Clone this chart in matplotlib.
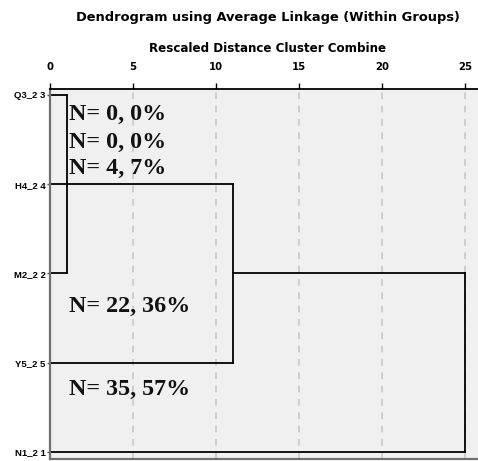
import matplotlib
matplotlib.use("Agg")
import matplotlib.pyplot as plt

# cases, top to bottom
case_labels = ["Q3_2 3", "H4_2 4", "M2_2 2", "Y5_2 5", "N1_2 1"]

# links: (row of first member, where its line starts, row of second member, where it starts, joining distance)
links = [
    (0, 0, 2, 0, 1),
    (1, 0, 3, 0, 11),
    (2, 11, 4, 0, 25),
]

# annotation text with its vertical position (in rows)
notes = ["N= 0, 0%", "N= 0, 0%", "N= 4, 7%", "N= 22, 36%", "N= 35, 57%"]
note_rows = [0.22, 0.53, 0.82, 2.37, 3.3]

xticks = [0, 5, 10, 15, 20, 25]

plt.rcParams['font.family'] = ['Liberation Sans', 'DejaVu Sans']

fig = plt.figure(figsize=(4.78, 4.61), dpi=100)
ax = fig.add_axes([50 / 478, 2 / 461, 428 / 478, 370 / 461])
ax.set_facecolor("#f0f0f0")

for ra, xa, rb, xb, h in links:
    ax.plot([xa, h], [ra, ra], color="black", lw=1.3, solid_capstyle="projecting")
    ax.plot([xb, h], [rb, rb], color="black", lw=1.3, solid_capstyle="projecting")
    ax.plot([h, h], [ra, rb], color="black", lw=1.3, solid_capstyle="projecting")

for t, r in zip(notes, note_rows):
    ax.text(1.15, r, t, family=['Liberation Serif', 'DejaVu Serif'], fontweight='bold',
            fontsize=17.3, va='center', ha='left', color="#111111")

ax.set_xlim(0, 428 / 16.6)
ax.set_ylim(4.08, -0.067)
ax.set_xticks(xticks)
ax.set_xticklabels([str(v) for v in xticks], fontweight='bold', fontsize=7.3,
                   family=['DejaVu Sans'])
ax.xaxis.tick_top()
ax.tick_params(axis='x', length=4, width=1, pad=8, color="black")
ax.set_yticks(range(len(case_labels)))
ax.set_yticklabels(case_labels, fontweight='bold', fontsize=6.8)
ax.tick_params(axis='y', length=2, width=1, pad=1, color="#555555")
ax.grid(axis='x', color="#c8c8c8", linestyle=(0, (4, 4)), lw=1.2)
ax.set_axisbelow(True)

ax.spines['right'].set_visible(False)
ax.spines['top'].set_color("black")
ax.spines['top'].set_linewidth(1.3)
ax.spines['left'].set_color("#707070")
ax.spines['left'].set_linewidth(1.6)
ax.spines['bottom'].set_color("#707070")
ax.spines['bottom'].set_linewidth(1.6)

fig.text(268 / 478, 1 - 18 / 461, "Dendrogram using Average Linkage (Within Groups)",
         ha='center', va='center', fontweight='bold', fontsize=9.4, family=['DejaVu Sans'])
fig.text(268 / 478, 1 - 48 / 461, "Rescaled Distance Cluster Combine",
         ha='center', va='center', fontweight='bold', fontsize=8.6, family=['DejaVu Sans'])

fig.savefig("out.png", dpi=100)
